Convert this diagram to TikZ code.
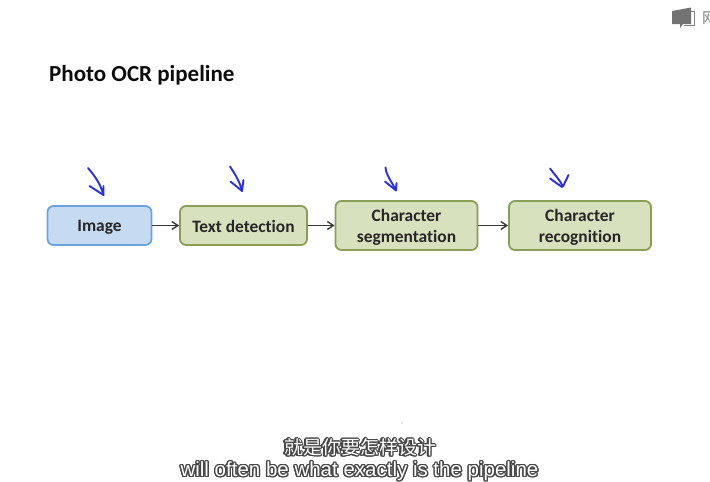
\documentclass[tikz,border=0pt]{standalone}
\usepackage{fontspec}
\usepackage{contour}
\usetikzlibrary{arrows.meta}
\setmainfont[RawFeature={-liga;-clig}]{Carlito}
\newfontfamily\subfont{Liberation Sans}
\newfontfamily\cjkfont{Noto Sans CJK SC}
\definecolor{blueFill}{HTML}{C6DAF1}
\definecolor{blueLine}{HTML}{6CA3DE}
\definecolor{greenFill}{HTML}{D8E1BE}
\definecolor{greenLine}{HTML}{8A9E58}
\definecolor{penBlue}{HTML}{2A2FE0}
\contourlength{1.3pt}
\contournumber{16}
\def\nudged#1{\raisebox{-2pt}[\height][\depth]{#1}}
\tikzset{
	stage/.style={draw, line width=1.8pt, rounded corners=6pt, inner sep=0pt, align=center, text=black!85, font=\bfseries\fontsize{17.4}{21}\selectfont},
	imagebox/.style={stage, fill=blueFill, draw=blueLine},
	stagebox/.style={stage, fill=greenFill, draw=greenLine},
	flow/.style={-{Straight Barb[length=6pt, width=8pt]}, line width=1.4pt, color=black!78},
	pen/.style={line width=1.9pt, color=penBlue, line cap=round, line join=round},
	subtitle/.style={inner sep=0pt, text=white}
}

\begin{document}
\begin{tikzpicture}[x=1pt, y=-1pt]
	\useasboundingbox (0, 0) rectangle (710, 482);
	\fill[white] (0, 0) rectangle (710, 482);

	% title
	\node[anchor=base west, inner sep=0pt, text=black!95] (title) at (49, 81.5) {\bfseries\fontsize{23}{25}\selectfont Photo OCR pipeline};

	% pipeline
	\node[imagebox, minimum width=104pt, minimum height=39pt] (image) at (99.5, 225.5) {\nudged{Image}};
	\node[stagebox, minimum width=127pt, minimum height=39pt] (text) at (243.5, 225.5) {\raisebox{-1pt}[\height][\depth]{Text detection}};
	\node[stagebox, minimum width=142pt, minimum height=49pt] (segment) at (406.5, 225.5) {\nudged{Character}\\\nudged{segmentation}};
	\node[stagebox, minimum width=142pt, minimum height=49pt] (recog) at (580, 225.5) {\nudged{Character}\\\nudged{recognition}};

	\draw[flow] (image) -- (text);
	\draw[flow] (text) -- (segment);
	\draw[flow] (segment) -- (recog);

	% pen marks
	\draw[pen] (88, 168) .. controls (93, 174) and (100, 182) .. (103.5, 195) -- (103.5, 186);
	\draw[pen] (89.5, 186) -- (103.5, 195);
	\draw[pen] (230, 166.5) .. controls (235, 174) and (240, 182) .. (242, 191) -- (243.5, 180);
	\draw[pen] (230.5, 181.5) -- (242, 191);
	\draw[pen] (385.5, 167.5) .. controls (386, 175) and (392, 182) .. (396, 190.5) -- (396.5, 183);
	\draw[pen] (385, 181.5) -- (396, 190.5);
	\draw[pen] (550, 168.5) .. controls (554, 174) and (560, 180) .. (563, 186.5) -- (568.5, 175);
	\draw[pen] (550, 178.5) -- (562, 187);

	% player icon
	\fill[black!55] (672, 11) -- (691, 7.5) -- (691, 24) -- (683, 24) -- (680, 28) -- (680, 24) -- (672, 24) -- cycle;
	\draw[black!50, line width=0.8pt] (691, 11) -- (694, 11) -- (694, 25) -- (684, 25);
	\node[anchor=west, inner sep=0pt, text=black!50] (glyph) at (702, 18) {\cjkfont\fontsize{15}{15}\selectfont 网};

	% subtitles
	\fill[black!45] (402, 423) circle (0.7);
	\node[subtitle] (subcn) at (360, 448) {\contour{black!72}{\cjkfont\fontsize{19}{19}\selectfont 就是你要怎样设计}};
	\node[subtitle] (suben) at (359.5, 472) {\contour{black!72}{\subfont\fontsize{20.5}{20.5}\selectfont will often be what exactly is the pipeline}};
\end{tikzpicture}
\end{document}
